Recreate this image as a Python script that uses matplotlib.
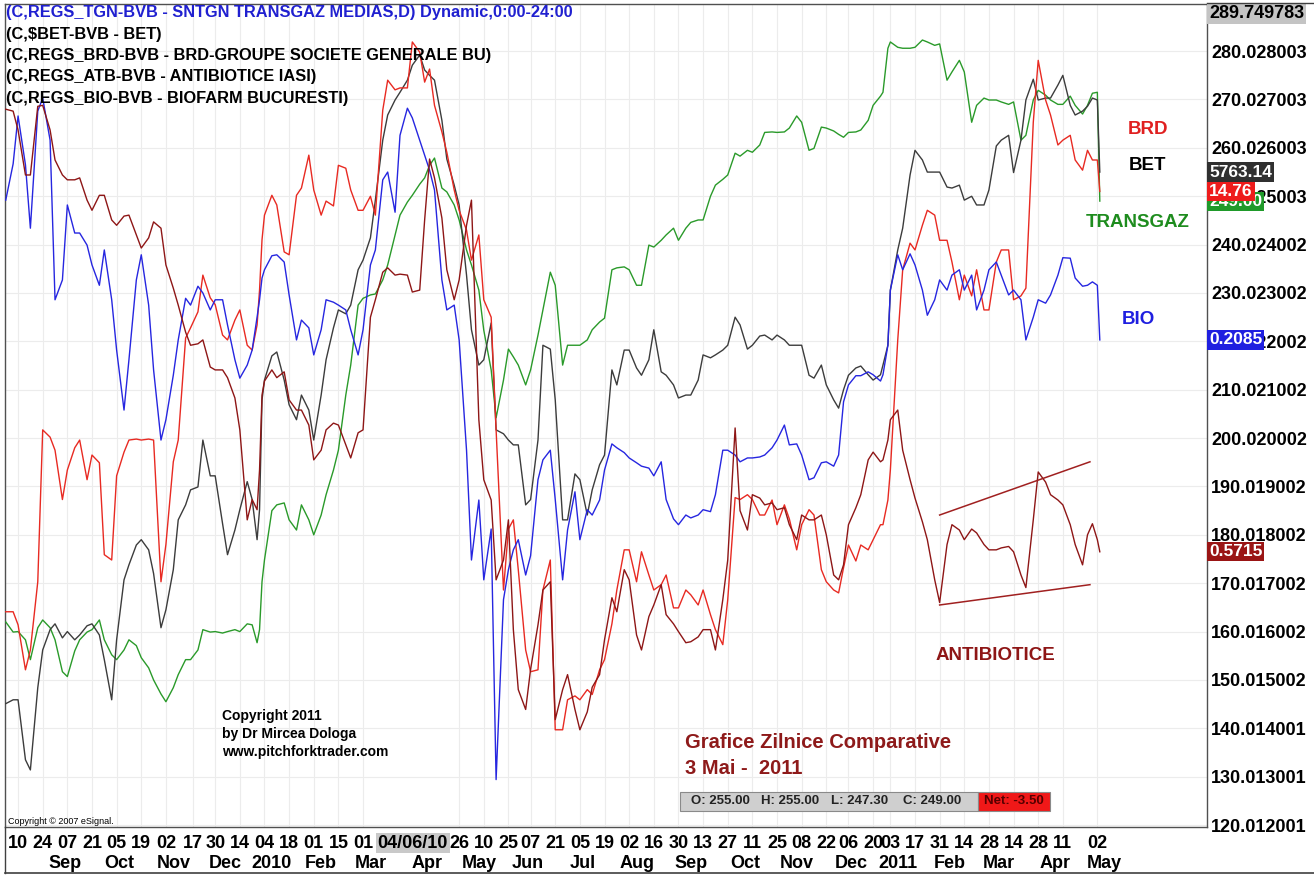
import numpy as np
import pandas as pd
import matplotlib
matplotlib.use('Agg')
import matplotlib.pyplot as plt
from matplotlib.lines import Line2D
from matplotlib.patches import Rectangle

plt.rcParams['font.family'] = ['Liberation Sans', 'DejaVu Sans']
NARROW = ['Liberation Sans Narrow', 'Liberation Sans', 'DejaVu Sans']

# trading calendar (BVB closed days)
holidays = ['2009-12-24', '2009-12-25', '2009-12-28', '2009-12-31', '2010-01-01',
            '2010-04-05', '2010-05-24', '2010-12-01', '2010-12-24', '2010-12-27',
            '2010-12-31', '2011-04-25']
cal = pd.bdate_range('2009-08-03', periods=520)
cal = cal[~cal.isin(pd.to_datetime(holidays))]

mondays = pd.date_range('2009-08-03', '2011-05-02', freq='W-MON')
thursdays = mondays[:-1] + pd.Timedelta(days=3)
last_day = '2011-05-03'

# Monday closes (2009-08-03 .. 2011-05-02)
transgaz_mon = [162.0, 160.0, 154.2, 162.4, 158.3, 150.7, 158.3, 160.4, 158.3, 154.2,
                158.3, 154.6, 150.0, 145.5, 151.1, 154.2, 160.4, 160.0, 160.0, 160.0,
                161.4, 160.4, 174.8, 186.2, 183.1, 186.2, 180.0, 188.3, 197.5, 215.1,
                228.9, 229.8, 235.8, 246.1, 250.2, 253.8, 257.9, 250.9, 245.1, 235.8,
                222.3, 204.2, 218.4, 215.1, 214.1, 226.5, 231.6, 219.2, 219.2, 222.4,
                224.8, 235.2, 234.8, 231.6, 239.5, 242.0, 240.9, 244.6, 245.1, 252.3,
                254.4, 258.3, 259.1, 263.2, 263.2, 264.1, 265.3, 259.9, 264.1, 262.8,
                263.2, 263.7, 268.8, 271.5, 281.9, 280.6, 280.8, 281.9, 281.5, 275.7,
                275.7, 268.8, 269.9, 269.5, 269.5, 262.6, 271.9, 269.9, 269.0, 268.8,
                268.8, 271.5]
bet_mon = [145.1, 145.9, 131.4, 156.2, 161.6, 160.0, 159.3, 161.6, 154.2, 158.3,
           173.8, 179.0, 172.0, 164.5, 183.1, 189.3, 199.6, 192.2, 175.9, 185.2,
           187.3, 185.2, 212.0, 217.8, 206.9, 208.9, 199.6, 216.2, 226.5, 227.5,
           236.8, 249.2, 266.8, 271.5, 277.1, 276.1, 274.0, 257.7, 248.2, 222.4,
           216.2, 201.7, 199.6, 198.6, 187.3, 219.2, 207.9, 183.1, 191.4, 189.3,
           196.5, 211.0, 218.2, 213.0, 222.4, 213.0, 208.3, 208.9, 217.2, 217.2,
           219.2, 223.4, 219.2, 221.3, 221.3, 219.2, 219.2, 212.4, 211.0, 206.2,
           213.0, 214.9, 212.0, 215.1, 230.6, 243.4, 259.5, 255.0, 255.0, 251.7,
           249.2, 248.2, 251.3, 261.6, 254.9, 269.9, 269.9, 270.3, 275.0, 266.8,
           268.6, 269.9]
brd_mon = [164.1, 161.4, 156.2, 201.7, 197.5, 193.4, 199.6, 196.5, 175.9, 192.2,
           199.6, 199.6, 199.6, 178.0, 199.6, 222.8, 233.7, 227.6, 220.3, 226.5,
           218.2, 230.6, 246.1, 248.2, 237.9, 251.7, 251.3, 249.0, 256.4, 251.3,
           247.1, 246.1, 274.0, 272.4, 281.9, 273.6, 268.8, 259.1, 247.1, 236.8,
           228.6, 201.7, 181.2, 172.8, 151.7, 168.6, 139.7, 145.9, 145.9, 147.0,
           154.2, 168.6, 176.9, 176.5, 168.6, 171.7, 164.9, 167.6, 168.6, 160.4,
           166.6, 187.3, 187.3, 184.1, 182.1, 183.3, 182.1, 184.1, 170.3, 168.0,
           177.9, 177.9, 179.0, 182.1, 193.4, 234.8, 238.9, 247.1, 240.9, 236.4,
           233.7, 234.8, 226.5, 238.9, 228.6, 231.0, 278.1, 266.8, 261.6, 257.5,
           259.5, 257.5]
bio_mon = [249.2, 266.6, 243.4, 270.3, 228.6, 248.2, 242.4, 235.8, 238.9, 218.2,
           216.2, 237.9, 214.1, 203.8, 220.3, 227.5, 230.0, 228.6, 223.4, 212.4,
           218.2, 228.6, 234.8, 237.9, 229.6, 224.4, 217.2, 228.6, 227.5, 222.4,
           222.4, 238.9, 255.0, 262.6, 266.2, 258.5, 251.3, 226.5, 220.3, 174.8,
           170.7, 129.4, 172.8, 179.0, 175.7, 195.5, 187.3, 181.0, 179.0, 184.1,
           193.4, 198.0, 195.9, 194.2, 192.2, 187.3, 182.1, 183.5, 185.2, 188.3,
           197.5, 195.1, 195.9, 196.5, 199.6, 198.6, 196.5, 191.8, 195.1, 196.5,
           211.0, 212.9, 213.1, 213.1, 230.6, 234.8, 235.8, 225.4, 232.7, 233.7,
           230.6, 226.5, 234.8, 233.7, 230.6, 220.3, 228.6, 229.6, 237.3, 233.1,
           231.6, 231.6]
atb_mon = [268.0, 263.7, 254.4, 268.8, 257.5, 253.4, 253.8, 247.1, 250.2, 244.0,
           246.1, 239.3, 244.7, 235.8, 227.5, 219.2, 220.3, 214.1, 212.5, 201.7,
           187.3, 193.4, 211.8, 212.5, 207.9, 205.8, 195.5, 201.7, 202.7, 195.9,
           201.7, 228.6, 235.2, 233.9, 230.2, 245.1, 253.8, 234.8, 232.7, 249.2,
           191.4, 170.7, 183.1, 148.0, 152.2, 168.6, 141.8, 151.1, 139.7, 148.5,
           158.3, 164.1, 170.7, 156.2, 165.5, 163.5, 160.0, 157.9, 160.4, 156.2,
           174.8, 185.0, 188.3, 186.2, 185.2, 182.1, 184.1, 183.1, 180.0, 170.7,
           182.1, 188.3, 197.1, 195.5, 203.8, 197.5, 187.6, 179.0, 166.0, 182.1,
           179.0, 180.4, 176.9, 177.3, 176.5, 169.1, 193.0, 188.3, 186.2, 178.0,
           180.0, 179.0]

# Thursday closes (2009-08-06 .. 2011-04-28)
transgaz_thu = [159.9, 158.3, 160.8, 160.8, 151.7, 156.0, 159.9, 162.4, 155.2, 156.2,
                157.1, 152.5, 147.1, 148.4, 154.2, 156.2, 159.9, 159.7, 160.4, 161.6,
                157.7, 170.3, 185.0, 186.6, 181.0, 183.1, 184.1, 193.4, 208.9, 227.5,
                229.6, 232.7, 242.0, 248.8, 252.5, 256.4, 251.7, 248.2, 238.9, 230.6,
                214.1, 212.0, 216.8, 211.0, 221.3, 234.3, 215.1, 219.2, 220.3, 224.0,
                234.8, 235.4, 231.6, 239.9, 240.9, 243.4, 243.4, 245.1, 250.0, 253.5,
                258.9, 259.5, 260.6, 263.3, 263.3, 266.6, 259.5, 264.3, 263.5, 262.2,
                263.3, 265.7, 270.7, 280.6, 280.8, 280.6, 282.3, 281.2, 274.0, 278.1,
                265.3, 270.3, 269.9, 269.0, 261.6, 269.9, 270.9, 269.0, 270.7, 267.0,
                271.3]
bet_thu = [145.9, 133.5, 148.4, 160.4, 158.7, 158.3, 161.2, 159.3, 145.9, 170.7,
           177.9, 176.9, 160.8, 172.8, 186.2, 189.9, 192.2, 182.3, 181.0, 191.0,
           179.0, 207.9, 217.0, 212.0, 203.8, 205.8, 208.9, 222.8, 225.7, 234.8,
           241.4, 261.6, 269.9, 274.0, 279.2, 275.0, 265.7, 252.3, 233.7, 215.1,
           223.8, 200.9, 198.6, 186.2, 199.6, 218.4, 183.1, 192.6, 184.1, 194.5,
           214.1, 218.2, 214.5, 216.2, 213.7, 211.0, 208.9, 212.0, 216.6, 218.2,
           225.0, 218.4, 221.1, 220.3, 220.3, 219.2, 213.0, 215.1, 207.9, 210.0,
           214.5, 213.1, 213.1, 219.2, 238.9, 254.4, 257.5, 255.0, 251.9, 252.3,
           250.0, 248.2, 260.4, 262.6, 261.6, 274.2, 270.3, 273.0, 268.8, 267.6,
           270.3]
brd_thu = [164.1, 152.1, 170.3, 200.2, 187.3, 198.0, 191.4, 194.9, 174.8, 197.1,
           199.8, 199.8, 170.3, 195.1, 220.7, 226.1, 229.0, 221.3, 224.4, 219.2,
           223.4, 241.0, 250.2, 238.5, 250.2, 258.5, 246.1, 248.0, 255.8, 247.1,
           250.0, 267.8, 272.0, 272.4, 279.8, 276.3, 263.3, 251.3, 243.0, 242.0,
           225.0, 168.6, 183.1, 156.2, 152.1, 174.8, 139.7, 146.7, 148.0, 152.1,
           161.6, 176.9, 170.3, 171.7, 169.7, 164.9, 168.6, 165.5, 163.5, 157.3,
           187.7, 188.3, 184.1, 187.2, 186.2, 176.9, 185.2, 172.8, 168.6, 173.2,
           174.6, 176.9, 182.1, 187.2, 220.3, 240.3, 244.0, 246.1, 240.9, 228.6,
           229.4, 226.5, 236.4, 238.9, 229.4, 265.3, 269.9, 260.6, 262.6, 255.4,
           257.5]
bio_thu = [256.7, 256.5, 267.6, 261.6, 232.7, 242.4, 239.9, 231.6, 228.6, 205.8,
           232.7, 227.5, 199.6, 213.0, 228.9, 231.4, 226.5, 228.6, 216.2, 215.1,
           225.0, 233.1, 237.7, 236.4, 220.3, 222.8, 222.4, 228.1, 226.5, 217.2,
           235.8, 253.4, 246.7, 268.2, 261.6, 255.4, 232.7, 227.5, 197.5, 187.2,
           181.2, 166.6, 176.9, 171.7, 191.4, 197.5, 170.7, 188.9, 185.2, 187.2,
           198.8, 197.0, 194.9, 193.8, 195.1, 183.3, 184.1, 184.1, 184.8, 197.5,
           196.5, 195.9, 196.1, 198.0, 202.7, 198.8, 191.4, 194.9, 194.2, 207.5,
           212.9, 213.7, 211.8, 219.2, 237.9, 238.1, 230.6, 228.6, 230.6, 234.8,
           233.7, 230.6, 236.4, 229.6, 228.6, 225.0, 227.9, 233.7, 237.2, 231.4,
           232.3]
atb_thu = [267.6, 254.4, 268.6, 263.7, 254.4, 253.4, 249.2, 250.2, 245.1, 245.9,
           242.0, 241.4, 243.4, 231.0, 221.9, 219.5, 214.7, 214.1, 208.3, 183.1,
           185.2, 208.9, 214.1, 213.7, 205.8, 202.7, 197.5, 203.1, 198.6, 201.1,
           225.0, 234.3, 233.7, 233.7, 230.6, 257.7, 245.5, 228.6, 244.0, 203.8,
           187.2, 174.8, 160.4, 143.9, 161.4, 170.3, 148.0, 143.9, 143.4, 151.1,
           167.0, 172.8, 159.3, 163.1, 169.7, 161.6, 157.7, 158.9, 160.4, 166.6,
           202.1, 181.0, 187.6, 186.6, 185.6, 179.0, 183.1, 184.1, 171.7, 173.8,
           185.6, 195.5, 195.1, 199.6, 205.8, 191.4, 182.7, 170.7, 178.0, 181.0,
           181.2, 178.0, 176.9, 177.6, 171.7, 183.1, 190.9, 187.2, 182.1, 173.8,
           182.3]

# close of 3 Mai 2011: TRANSGAZ, BET, BRD, BIO, ATB
close_last = [249.0, 255.0, 251.0, 220.3, 176.5]
last_tags = ['249.00', '5763.14', '14.76', '0.2085', '0.5715']

# ATB channel lines
chan_dates = ['2011-01-31', '2011-04-27']
chan_upper = [184.1, 195.1]
chan_lower = [165.5, 169.7]

ytick_vals = [280.028003, 270.027003, 260.026003, 250.025003, 240.024002, 230.023002,
              220.022002, 210.021002, 200.020002, 190.019002, 180.018002, 170.017002,
              160.016002, 150.015002, 140.014001, 130.013001, 120.012001]
ytop = 289.749783

tick_dates = ['2009-08-10', '2009-08-24', '2009-09-07', '2009-09-21', '2009-10-05', '2009-10-19',
              '2009-11-02', '2009-11-17', '2009-11-30', '2009-12-14', '2010-01-04', '2010-01-18',
              '2010-02-01', '2010-02-15', '2010-03-01', '2010-04-26', '2010-05-10', '2010-05-25',
              '2010-06-07', '2010-06-21', '2010-07-05', '2010-07-19', '2010-08-02', '2010-08-16',
              '2010-08-30', '2010-09-13', '2010-09-27', '2010-10-11', '2010-10-25', '2010-11-08',
              '2010-11-22', '2010-12-06', '2010-12-20', '2011-01-03', '2011-01-17', '2011-01-31',
              '2011-02-14', '2011-02-28', '2011-03-14', '2011-03-28', '2011-04-11', '2011-05-02']
cursor_date = '2010-04-06'
month_starts = ['2009-09-01', '2009-10-01', '2009-11-02', '2009-12-01', '2010-01-04', '2010-02-01',
                '2010-03-01', '2010-04-01', '2010-05-03', '2010-06-01', '2010-07-01', '2010-08-02',
                '2010-09-01', '2010-10-01', '2010-11-01', '2010-12-01', '2011-01-03', '2011-02-01',
                '2011-03-01', '2011-04-01', '2011-05-02']
month_labels = ['Sep', 'Oct', 'Nov', 'Dec', '2010', 'Feb', 'Mar', 'Apr', 'May', 'Jun', 'Jul', 'Aug',
                'Sep', 'Oct', 'Nov', 'Dec', '2011', 'Feb', 'Mar', 'Apr', 'May']

W, H = 1314, 875
PT = 0.72  # points per pixel at 100 dpi


def fx(px):
    return px / W


def fy(py):
    return 1 - py / H


def weave(mon, thu, last):
    out = []
    for a, b in zip(mon[:-1], thu):
        out += [a, b]
    return out + [mon[-1], last]


xm = cal.searchsorted(mondays)
xth = cal.searchsorted(thursdays, side='right') - 1
x = weave(list(xm), list(xth), cal.searchsorted(pd.Timestamp(last_day)))

fig = plt.figure(figsize=(W / 100, H / 100), dpi=100)
fig.patch.set_facecolor('white')
ax = fig.add_axes([fx(5), fy(827), fx(1207) - fx(5), fy(4) - fy(827)])

series = [(transgaz_mon, transgaz_thu, '#2a9a2a'),
          (bet_mon, bet_thu, '#3c3c3c'),
          (brd_mon, brd_thu, '#e82a22'),
          (bio_mon, bio_thu, '#2626e0'),
          (atb_mon, atb_thu, '#8e1616')]
for (mon, thu, col), last in zip(series, close_last):
    ax.plot(x, weave(mon, thu, last), color=col, lw=1.0, zorder=3)

cx = cal.searchsorted(pd.to_datetime(chan_dates))
ax.plot(cx, chan_upper, color='#a02020', lw=1.1, zorder=3)
ax.plot(cx, chan_lower, color='#a02020', lw=1.1, zorder=3)

ax.set_xlim(-0.3, 487.5)
ax.set_ylim(119.6, ytop)

# price scale on the right
ax.yaxis.tick_right()
ax.set_yticks(ytick_vals)
ax.set_yticklabels(['%.6f' % v for v in ytick_vals], fontsize=13, fontweight='bold')
ax.tick_params(axis='y', length=0, pad=3)

xt = cal.searchsorted(pd.to_datetime(tick_dates))
ax.set_xticks(xt)
ax.set_xticklabels([pd.Timestamp(d).strftime('%d') for d in tick_dates],
                   fontfamily=NARROW, fontsize=13, fontweight='bold')
ax.tick_params(axis='x', length=0, pad=6)

ax.grid(True, color='#ececec', lw=0.8, zorder=0)
for s in ax.spines.values():
    s.set_color('#505050')
    s.set_linewidth(1.0)

# cursor date on the time scale
cpos = cal.searchsorted(pd.Timestamp(cursor_date))
ax.annotate('04/06/10', xy=(cpos, 0), xycoords=('data', 'axes fraction'),
            xytext=(-12 * PT, -16 * PT), textcoords='offset points', ha='center', va='center',
            fontfamily=NARROW, fontsize=13, fontweight='bold', annotation_clip=False,
            bbox=dict(boxstyle='square,pad=0.1', fc='#c9c9c9', ec='none'))

for d, lab in zip(month_starts, month_labels):
    mpos = cal.searchsorted(pd.Timestamp(d)) + 3
    ax.annotate(lab, xy=(mpos, 0), xycoords=('data', 'axes fraction'),
                xytext=(0, -37 * PT), textcoords='offset points', ha='center', va='center',
                fontfamily=NARROW, fontsize=13, fontweight='bold', annotation_clip=False)

# top of scale
ax.annotate('%.6f' % ytop, xy=(1, 1), xycoords='axes fraction', xytext=(2 * PT, -1.5 * PT),
            textcoords='offset points', ha='left', va='top', fontsize=13, fontweight='bold',
            annotation_clip=False, bbox=dict(boxstyle='square,pad=0.1', fc='#c4c4c4', ec='none'))

# last-price tags (green first so that the red one sits over it)
tag_colors = ['#1f9a2a', '#303030', '#ee1c1c', '#1f1fe0', '#9a1515']
for i in [0, 2, 1, 3, 4]:
    ax.annotate(last_tags[i], xy=(1, close_last[i]), xycoords=('axes fraction', 'data'),
                xytext=(2 * PT, 0), textcoords='offset points', ha='left', va='center',
                fontsize=12.5, fontweight='bold', color='white', annotation_clip=False, zorder=6,
                bbox=dict(boxstyle='square,pad=0.12', fc=tag_colors[i], ec='none'))

# symbol lines
legend_lines = ['(C,REGS_TGN-BVB - SNTGN TRANSGAZ MEDIAS,D) Dynamic,0:00-24:00',
                '(C,\\$BET-BVB - BET)',
                '(C,REGS_BRD-BVB - BRD-GROUPE SOCIETE GENERALE BU)',
                '(C,REGS_ATB-BVB - ANTIBIOTICE IASI)',
                '(C,REGS_BIO-BVB - BIOFARM BUCURESTI)']
for i, t in enumerate(legend_lines):
    fig.text(fx(6), fy(13 + 21.3 * i), t, ha='left', va='center', fontsize=11.8,
             fontweight='bold', fontfamily=NARROW, color='#2020d0' if i == 0 else 'black', zorder=1)

# names
names = [('BRD', '#e02020', 1148, 130), ('BET', 'black', 1148, 166),
         ('TRANSGAZ', '#1e8c1e', 1138, 222), ('BIO', '#1f1fe0', 1138, 320),
         ('ANTIBIOTICE', '#8e1616', 995, 656)]
for t, col, px, py in names:
    fig.text(fx(px), fy(py), t, ha='center', va='center', fontsize=13.5, fontweight='bold', color=col)

for i, t in enumerate(['Copyright 2011', 'by Dr Mircea Dologa', 'www.pitchforktrader.com']):
    fig.text(fx(222), fy(716 + 18 * i), t, ha='left', va='center', fontsize=10, fontweight='bold')

fig.text(fx(685), fy(742), 'Grafice Zilnice Comparative', ha='left', va='center',
         fontsize=14.5, fontweight='bold', color='#8e1a1a')
fig.text(fx(685), fy(768), '3 Mai -  2011', ha='left', va='center',
         fontsize=14.5, fontweight='bold', color='#8e1a1a')

fig.text(fx(8), fy(822), 'Copyright \u00a9 2007 eSignal.', ha='left', va='center',
         fontsize=6.5, fontfamily=NARROW)

# OHLC strip
fig.patches.append(Rectangle((fx(680), fy(811)), fx(978) - fx(680), fy(792) - fy(811),
                             transform=fig.transFigure, fc='#cfcfcf', ec='#8a8a8a', lw=0.8))
fig.patches.append(Rectangle((fx(978), fy(811)), fx(1050) - fx(978), fy(792) - fy(811),
                             transform=fig.transFigure, fc='#f01818', ec='#8a8a8a', lw=0.8))
for t, px in [('O: 255.00', 720), ('H: 255.00', 790), ('L: 247.30', 860), ('C: 249.00', 932)]:
    fig.text(fx(px), fy(801), t, ha='center', va='center', fontsize=9.5, fontweight='bold',
             fontfamily=NARROW, color='#222222')
fig.text(fx(1014), fy(801), 'Net: -3.50', ha='center', va='center', fontsize=9.5,
         fontweight='bold', fontfamily=NARROW, color='#550000')

# outer frame of the time scale
fig.add_artist(Line2D([fx(5), fx(5)], [fy(827), fy(873)], color='#404040', lw=1.0))
fig.add_artist(Line2D([fx(5), fx(1314)], [fy(873), fy(873)], color='#404040', lw=1.2))
fig.add_artist(Line2D([fx(1207), fx(1314)], [fy(3), fy(3)], color='#404040', lw=1.0))

fig.savefig('out.png', dpi=100)
